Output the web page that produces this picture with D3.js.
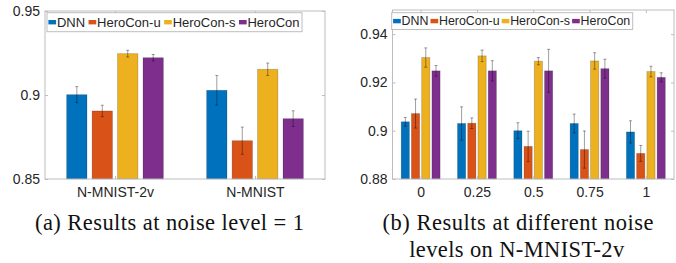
<!DOCTYPE html>
<html><head><meta charset="utf-8">
<script src="https://cdn.jsdelivr.net/npm/d3@7"></script>
<style>
body{margin:0;background:#fff;}
svg{display:block;}
</style></head>
<body>
<svg id="chart" width="676" height="263"></svg>
<script>
// ---------- data ----------
const seriesNames = ["DNN", "HeroCon-u", "HeroCon-s", "HeroCon"];
const seriesColors = ["#0072BD", "#D95319", "#EDB120", "#7E2F8E"];

// (a) noise level = 1
const datasetsA = ["N-MNIST-2v", "N-MNIST"];
const dnnA = [0.9002, 0.9028];
const heroUA = [0.8905, 0.8728];
const heroSA = [0.9246, 0.9153];
const heroA = [0.9222, 0.8859];
const dnnAErr = [0.0048, 0.0088];
const heroUAErr = [0.0034, 0.0081];
const heroSAErr = [0.0020, 0.0037];
const heroAErr = [0.0019, 0.0047];
const ticksA = [0.85, 0.9, 0.95];

// (b) different noise levels on N-MNIST-2v
const noiseLevels = ["0", "0.25", "0.5", "0.75", "1"];
const dnnB = [0.9037, 0.9030, 0.9000, 0.9030, 0.8995];
const heroUB = [0.9071, 0.9031, 0.8935, 0.8922, 0.8906];
const heroSB = [0.9303, 0.9310, 0.9288, 0.9289, 0.9245];
const heroB = [0.9248, 0.9248, 0.9248, 0.9257, 0.9221];
const dnnBErr = [0.0018, 0.0069, 0.0033, 0.0039, 0.0046];
const heroUBErr = [0.0060, 0.0022, 0.0063, 0.0077, 0.0033];
const heroSBErr = [0.0040, 0.0024, 0.0015, 0.0034, 0.0022];
const heroBErr = [0.0022, 0.0042, 0.0089, 0.0039, 0.0019];
const ticksB = [0.88, 0.9, 0.92, 0.94];

const captionA = ["(a) Results at noise level = 1"];
const captionB = ["(b) Results at different noise", "levels on N-MNIST-2v"];

// ---------- drawing ----------
const svg = d3.select("#chart");
const frameColor = "#bdbdbd";
const textColor = "#262626";
const sansFont = "'Liberation Sans', Arial, sans-serif";

function drawPanel(cfg) {
  const g = svg.append("g");
  const n = cfg.categories.length;
  const x = d3.scaleLinear().domain([0.5, n + 0.5]).range([cfg.left, cfg.right]);
  const y = d3.scaleLinear().domain(cfg.yDomain).range([cfg.bottom, cfg.top]);
  const nb = cfg.series.length;
  const groupW = Math.min(0.8, nb / (nb + 1.5));
  const pitch = groupW / nb;
  const barW = pitch * 0.8;

  // bars
  cfg.series.forEach((vals, j) => {
    const off = (j - (nb - 1) / 2) * pitch;
    g.append("g").selectAll("rect").data(vals).join("rect")
      .attr("x", (d, i) => x(i + 1 + off - barW / 2))
      .attr("width", (d, i) => x(i + 1 + off + barW / 2) - x(i + 1 + off - barW / 2))
      .attr("y", d => y(d))
      .attr("height", d => y(cfg.yDomain[0]) - y(d))
      .attr("fill", seriesColors[j])
      .attr("stroke", "rgba(0,0,0,0.22)")
      .attr("stroke-width", 0.8);
  });
  // error bars
  cfg.series.forEach((vals, j) => {
    const off = (j - (nb - 1) / 2) * pitch;
    const errs = cfg.errors[j];
    const eg = g.append("g").attr("stroke", "#000").attr("stroke-opacity", 0.38).attr("stroke-width", 1);
    vals.forEach((v, i) => {
      const cx = x(i + 1 + off);
      const lo = y(v - errs[i]), hi = y(v + errs[i]);
      eg.append("line").attr("x1", cx).attr("x2", cx).attr("y1", lo).attr("y2", hi);
      eg.append("line").attr("x1", cx - 1.5).attr("x2", cx + 1.5).attr("y1", lo).attr("y2", lo);
      eg.append("line").attr("x1", cx - 1.5).attr("x2", cx + 1.5).attr("y1", hi).attr("y2", hi);
    });
  });

  // axes
  const fmt = d => String(+d.toFixed(2));
  const yl = g.append("g").attr("transform", `translate(${cfg.left},0)`)
    .call(d3.axisLeft(y).tickValues(cfg.ticks).tickFormat(fmt).tickSize(-3).tickPadding(5));
  const yr = g.append("g").attr("transform", `translate(${cfg.right},0)`)
    .call(d3.axisRight(y).tickValues(cfg.ticks).tickFormat("").tickSize(-3));
  const xb = g.append("g").attr("transform", `translate(0,${cfg.bottom})`)
    .call(d3.axisBottom(x).tickValues(d3.range(1, n + 1)).tickFormat(i => cfg.categories[i - 1]).tickSize(-3).tickPadding(8));
  const xt = g.append("g").attr("transform", `translate(0,${cfg.top})`)
    .call(d3.axisTop(x).tickValues(d3.range(1, n + 1)).tickFormat("").tickSize(-3));
  [yl, yr, xb, xt].forEach(a => {
    a.select(".domain").remove();
    a.selectAll(".tick line").attr("stroke", frameColor);
    a.selectAll("text").attr("font-family", sansFont).attr("font-size", 14).attr("fill", textColor);
  });
  g.append("rect").attr("x", cfg.left).attr("y", cfg.top)
    .attr("width", cfg.right - cfg.left).attr("height", cfg.bottom - cfg.top)
    .attr("fill", "none").attr("stroke", frameColor).attr("stroke-width", 1);

  // legend
  const lg = g.append("g");
  lg.append("rect").attr("x", cfg.legX).attr("y", cfg.legY)
    .attr("width", cfg.legW).attr("height", cfg.legH)
    .attr("fill", "#fff").attr("stroke", frameColor).attr("stroke-width", 1);
  const texts = seriesNames.map(name => lg.append("text").text(name)
    .attr("font-family", sansFont).attr("font-size", cfg.legFont).attr("fill", textColor)
    .attr("y", cfg.legY + cfg.legH - 4.5));
  const widths = texts.map(t => t.node().getComputedTextLength());
  const swW = 7.7, swGap = 0.8, lead = 1.4, trail = 2.5;
  const natural = lead + trail + d3.sum(widths) + seriesNames.length * (swW + swGap);
  const extra = Math.max(0.5, (cfg.legW - natural) / (seriesNames.length - 1));
  let cx = cfg.legX + lead;
  seriesNames.forEach((name, j) => {
    lg.append("rect").attr("x", cx).attr("y", cfg.legY + cfg.legH / 2 - 2.2)
      .attr("width", swW).attr("height", 4.4).attr("fill", seriesColors[j]);
    texts[j].attr("x", cx + swW + swGap);
    cx += swW + swGap + widths[j] + extra;
  });
}

drawPanel({
  categories: datasetsA,
  series: [dnnA, heroUA, heroSA, heroA],
  errors: [dnnAErr, heroUAErr, heroSAErr, heroAErr],
  yDomain: [0.85, 0.95], ticks: ticksA,
  left: 45, right: 325, top: 11, bottom: 179,
  legX: 47, legY: 12.7, legW: 255, legH: 19, legFont: 13
});
drawPanel({
  categories: noiseLevels,
  series: [dnnB, heroUB, heroSB, heroB],
  errors: [dnnBErr, heroUBErr, heroSBErr, heroBErr],
  yDomain: [0.88, 0.95], ticks: ticksB,
  left: 392.5, right: 674, top: 10, bottom: 179,
  legX: 391.7, legY: 12.7, legW: 241, legH: 16.8, legFont: 12.4
});

// captions
const serif = "'Liberation Serif', 'Times New Roman', serif";
function caption(lines, cxs, baselines, widths) {
  lines.forEach((s, i) => {
    svg.append("text").text(s)
      .attr("x", cxs[i]).attr("y", baselines[i])
      .attr("text-anchor", "middle")
      .attr("font-family", serif).attr("font-size", 22.5).attr("fill", "#111")
      .attr("textLength", widths[i]).attr("lengthAdjust", "spacing");
  });
}
caption(captionA, [169.5], [230], [269]);
caption(captionB, [518, 516.7], [230, 256.5], [271, 215]);
</script>
</body></html>
